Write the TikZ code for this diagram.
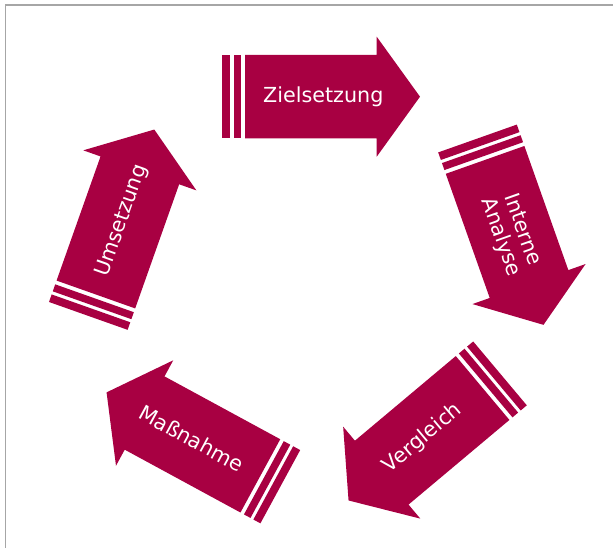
\documentclass[tikz,border=0pt]{standalone}
\usepackage{fontspec}
\setmainfont{DejaVu Sans}
\definecolor{crim}{RGB}{168,0,66}
\tikzset{
  arrowfill/.style={fill=crim, draw=none},
  arrowtext/.style={text=white, font=\fontsize{20.7}{23}\selectfont, align=center, inner sep=0pt},
  frameline/.style={draw=black!35, line width=1.3pt}
}
\newcommand\cyclearrow[6]{%
  \begin{scope}[shift={(#1,#2)}, rotate=#3, transform shape]
    \path[arrowfill] (0,-41.7) rectangle (8,41.7);
    \path[arrowfill] (11.3,-41.7) rectangle (18.7,41.7);
    \path[arrowfill] (22.7,-41.7) -- (154.4,-41.7) -- (154.4,-60) -- (197.7,0)
      -- (154.4,60) -- (154.4,41.7) -- (22.7,41.7) -- cycle;
    \node[arrowtext, rotate=#4] (#5) at (101,0) {#6};
  \end{scope}}
\begin{document}
\begin{tikzpicture}[x=1pt,y=-1pt]
\useasboundingbox (0,0) rectangle (613,548);
\path[frameline] (5.5,548) -- (5.5,5) -- (613,5);
\cyclearrow{222.3}{96.7}{0}{0}{ziel}{Zielsetzung}
\cyclearrow{477.5}{138.5}{-70.5}{0}{ana}{Interne\\Analyse}
\cyclearrow{500}{373.4}{-140}{180}{verg}{Vergleich}
\cyclearrow{280.3}{486.7}{-208.5}{180}{mass}{Maßnahme}
\cyclearrow{88.3}{315.9}{-289.5}{0}{ums}{Umsetzung}
\end{tikzpicture}
\end{document}
